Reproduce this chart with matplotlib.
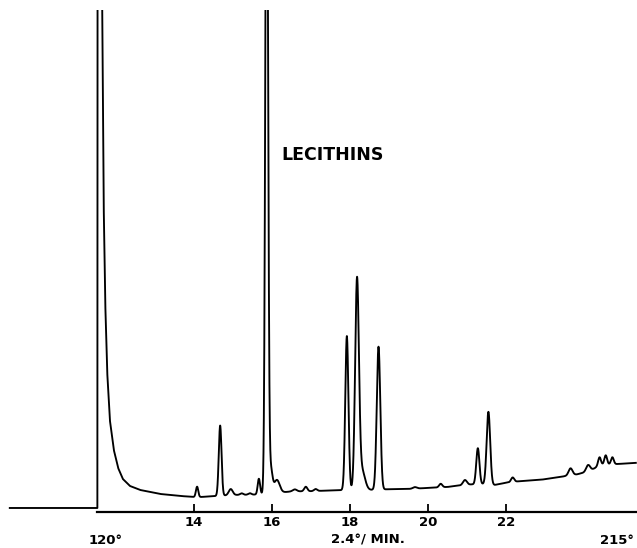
import numpy as np
import matplotlib
matplotlib.use("Agg")
import matplotlib.pyplot as plt

# ---- data (x: minutes, y: % of chart full scale) ----
# pen trace baseline (incl. injection / solvent front, which goes off scale)
base_t = [9.30, 11.54, 11.545, 11.655, 11.70, 11.74, 11.79, 11.86, 11.96, 12.07,
          12.19, 12.37, 12.63, 13.14, 13.65, 14.09, 14.40, 15.00, 15.50, 16.00,
          16.50, 17.00, 17.50, 18.00, 18.50, 19.00, 19.50, 20.00, 20.50, 20.70,
          21.10, 21.40, 21.70, 22.00, 22.40, 22.90, 23.30, 23.50, 23.80, 24.10,
          24.25, 24.40, 24.90, 25.31]
base_v = [0.7, 0.7, 110.0, 110.0, 62.0, 42.0, 28.0, 18.2, 12.3, 8.7,
          6.5, 5.1, 4.3, 3.5, 3.1, 2.85, 3.0, 3.3, 3.35, 3.6,
          4.0, 4.05, 4.2, 4.3, 4.3, 4.45, 4.5, 4.7, 4.9, 5.1,
          5.4, 5.45, 5.3, 5.75, 6.1, 6.35, 6.8, 7.05, 7.4, 8.0,
          8.6, 9.3, 9.5, 9.7]

# peaks: retention time (min), height above baseline, width (sigma, min)
peak_t = [14.09, 14.68, 14.95, 15.23, 15.44, 15.67, 15.87, 15.97, 16.13, 16.59,
          16.87, 17.12, 17.92, 18.18, 18.30, 18.73, 19.66, 20.32, 20.94, 21.27,
          21.54, 22.16, 23.64, 24.09, 24.38, 24.54, 24.71]
peak_h = [2.1, 14.0, 1.2, 0.3, 0.3, 3.1, 150.0, 5.0, 2.6, 0.4,
          0.9, 0.4, 30.7, 41.2, 4.0, 28.5, 0.3, 0.7, 1.0, 7.2,
          14.5, 0.9, 1.4, 1.3, 1.6, 1.85, 1.4]
peak_w = [0.03, 0.035, 0.05, 0.04, 0.04, 0.03, 0.034, 0.045, 0.07, 0.05,
          0.04, 0.04, 0.04, 0.048, 0.08, 0.045, 0.05, 0.04, 0.05, 0.04,
          0.045, 0.04, 0.05, 0.05, 0.035, 0.035, 0.035]

tick_vals = [14, 16, 18, 20, 22]
tick_labels = ["14", "16", "18", "20", "22"]
label_text = "LECITHINS"
start_temp = "120°"
rate_text = "2.4°/ MIN."
end_temp = "215°"

# ---- build trace ----
t = np.union1d(np.array(base_t), np.linspace(11.70, 25.31, 6000))
y = np.interp(t, base_t, base_v)
for c, h, w in zip(peak_t, peak_h, peak_w):
    mask = t > 11.66
    y[mask] += h * np.exp(-0.5 * ((t[mask] - c) / w) ** 2)

W, H = 637, 548
fig = plt.figure(figsize=(W / 100, H / 100), dpi=100)
ax_bottom = 511.5
ax_top = 10
ax = fig.add_axes([0, (H - ax_bottom) / H, 1, (ax_bottom - ax_top) / H])
ax.set_xlim(9.05, 25.34)
ax.set_ylim(0, 100)

ax.plot(t, y, color="black", lw=1.35, solid_joinstyle="round")

for s in ("top", "left", "right"):
    ax.spines[s].set_visible(False)
ax.spines["bottom"].set_bounds(11.54, 25.34)
ax.spines["bottom"].set_linewidth(1.6)
ax.set_yticks([])
ax.set_xticks(tick_vals)
ax.set_xticklabels(tick_labels, fontsize=9.5, fontweight="bold")
ax.tick_params(axis="x", direction="in", length=6, width=1.3, pad=3.5)

ax.text(333 / W, (ax_bottom - 155) / (ax_bottom - ax_top), label_text,
        transform=ax.transAxes, fontsize=12.5, fontweight="bold",
        ha="center", va="center")
fig.text(106 / W, 1 - 540 / H, start_temp, fontsize=9.5, fontweight="bold",
         ha="center", va="center")
fig.text(368 / W, 1 - 540 / H, rate_text, fontsize=9.5, fontweight="bold",
         ha="center", va="center")
fig.text(617 / W, 1 - 540 / H, end_temp, fontsize=9.5, fontweight="bold",
         ha="center", va="center")

fig.savefig("out.png", dpi=100)
